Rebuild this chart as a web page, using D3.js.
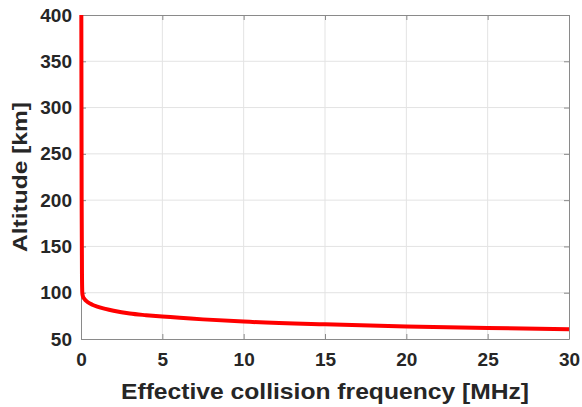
<!DOCTYPE html>
<html>
<head>
<meta charset="utf-8">
<script src="https://cdn.jsdelivr.net/npm/d3@7"></script>
<style>
  body { margin: 0; background: #fff; }
  svg { display: block; font-family: "Liberation Sans", Arial, sans-serif; }
</style>
</head>
<body>
<div id="chart"></div>
<script>
// curve: frequency in MHz, altitude in km
const freqMHz  = [0.02, 0.04, 0.06, 0.08, 0.12, 0.2, 0.4, 0.7, 1, 1.5, 2, 3, 4, 5, 7.5, 10, 15, 20, 25, 30];
const altKm    = [400, 200, 120, 100, 96, 93.5, 90, 87, 85, 82.5, 80.5, 77.5, 75.7, 74.2, 71.2, 68.8, 65.8, 63.6, 62, 60.6];
const xTicks   = [0, 5, 10, 15, 20, 25, 30];
const yTicks   = [50, 100, 150, 200, 250, 300, 350, 400];

const width = 582, height = 407;
const margin = { top: 15, right: 13, bottom: 68, left: 81 };
const innerW = width - margin.left - margin.right;
const innerH = height - margin.top - margin.bottom;

const svg = d3.select("#chart").append("svg")
    .attr("width", width)
    .attr("height", height);

const g = svg.append("g")
    .attr("transform", "translate(" + margin.left + "," + margin.top + ")");

const x = d3.scaleLinear().domain([0, 30]).range([0, innerW]);
const y = d3.scaleLinear().domain([50, 400]).range([innerH, 0]);

// grid
g.append("g").selectAll("line")
    .data(xTicks.slice(1, -1))
    .join("line")
    .attr("x1", d => x(d)).attr("x2", d => x(d))
    .attr("y1", 0).attr("y2", innerH)
    .attr("stroke", "#e3e3e3");

g.append("g").selectAll("line")
    .data(yTicks.slice(1, -1))
    .join("line")
    .attr("x1", 0).attr("x2", innerW)
    .attr("y1", d => y(d)).attr("y2", d => y(d))
    .attr("stroke", "#e3e3e3");

// axes, ticks inward
const tickColor = "#8a8a8a";
const styleAxis = sel => {
    sel.select(".domain").attr("stroke", tickColor);
    sel.selectAll(".tick line").attr("stroke", tickColor);
    sel.selectAll(".tick text")
        .attr("fill", "#262626")
        .style("font-size", "19px")
        .style("font-weight", "bold");
};

g.append("g")
    .attr("transform", "translate(0," + innerH + ")")
    .call(d3.axisBottom(x).tickValues(xTicks).tickSizeInner(-5).tickSizeOuter(0).tickPadding(14))
    .call(styleAxis);

g.append("g")
    .call(d3.axisLeft(y).tickValues(yTicks).tickSizeInner(-5).tickSizeOuter(0).tickPadding(9))
    .call(styleAxis);

g.append("g")
    .call(d3.axisTop(x).tickValues(xTicks).tickSizeInner(-5).tickSizeOuter(0).tickFormat(""))
    .call(styleAxis);

g.append("g")
    .attr("transform", "translate(" + innerW + ",0)")
    .call(d3.axisRight(y).tickValues(yTicks).tickSizeInner(-5).tickSizeOuter(0).tickFormat(""))
    .call(styleAxis);

// curve
const line = d3.line()
    .x((d, i) => x(freqMHz[i]))
    .y(d => y(d))
    .curve(d3.curveMonotoneX);

g.append("path")
    .datum(altKm)
    .attr("d", line)
    .attr("fill", "none")
    .attr("stroke", "#ff0000")
    .attr("stroke-width", 4)
    .attr("stroke-linejoin", "round");

// axis titles
svg.append("text")
    .attr("x", margin.left + innerW / 2)
    .attr("y", 399)
    .attr("text-anchor", "middle")
    .attr("fill", "#262626")
    .attr("textLength", 408)
    .attr("lengthAdjust", "spacingAndGlyphs")
    .style("font-size", "22px")
    .style("font-weight", "bold")
    .text("Effective collision frequency [MHz]");

svg.append("text")
    .attr("transform", "translate(27," + (margin.top + innerH / 2) + ") rotate(-90)")
    .attr("text-anchor", "middle")
    .attr("fill", "#262626")
    .attr("textLength", 150)
    .attr("lengthAdjust", "spacingAndGlyphs")
    .style("font-size", "21px")
    .style("font-weight", "bold")
    .text("Altitude [km]");
</script>
</body>
</html>
